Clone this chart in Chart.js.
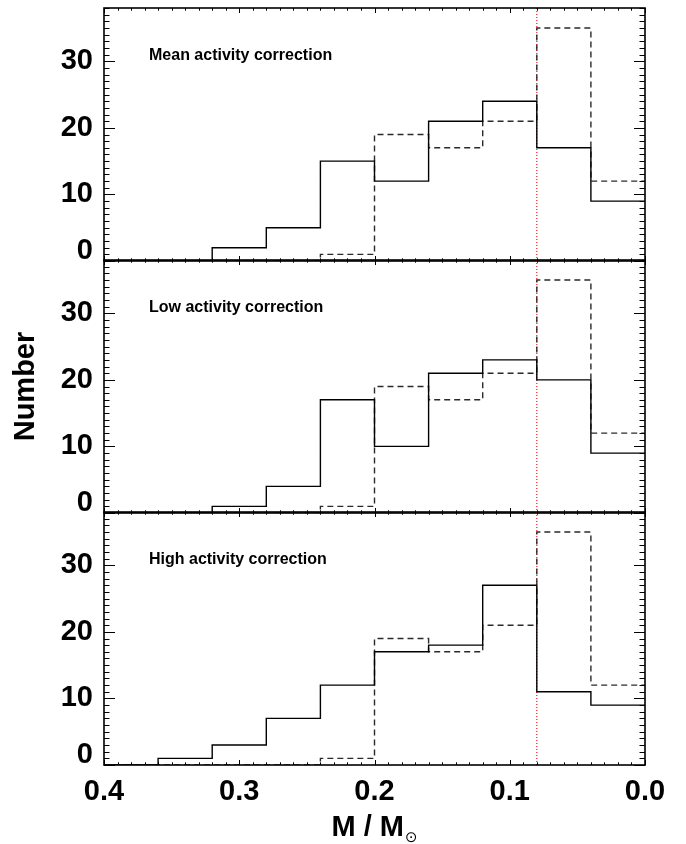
<!DOCTYPE html>
<html><head><meta charset="utf-8">
<script src="https://cdn.jsdelivr.net/npm/chart.js@4.4.0/dist/chart.umd.min.js"></script>
<style>
html,body{margin:0;padding:0;background:#fff;width:686px;height:844px;overflow:hidden;position:relative}
canvas{position:absolute;left:0}
</style></head><body>
<canvas id="p1" width="686" height="293" style="top:-12px"></canvas>
<canvas id="p2" width="686" height="293" style="top:240px"></canvas>
<canvas id="p3" width="686" height="352" style="top:492px"></canvas>
<script>
// ---- data ----
const binEdges = [0.40, 0.36, 0.32, 0.28, 0.24, 0.20, 0.16, 0.12, 0.08, 0.04, 0.00];
const meanActivity = [0, 0, 2, 5, 15, 12, 21, 24, 17, 9];
const lowActivity  = [0, 0, 1, 4, 17, 10, 21, 23, 20, 9];
const highActivity = [0, 1, 3, 7, 12, 17, 18, 27, 11, 9];
const referenceHist = [0, 0, 0, 0, 1, 19, 17, 21, 35, 12];
const panelTitles = ['Mean activity correction', 'Low activity correction', 'High activity correction'];
const yTickValues = [0, 10, 20, 30];
const xTickValues = [0.4, 0.3, 0.2, 0.1, 0.0];
const xTickLabels = ['0.4', '0.3', '0.2', '0.1', '0.0'];
const massLimit = 0.08;
const yMin = 0, yMax = 38;
const xMin = 0, xMax = 0.4;

const FONT = "'Liberation Sans', Arial, Helvetica, sans-serif";
Chart.defaults.font.family = FONT;
Chart.defaults.color = '#000';

function histPoints(vals) {
  return binEdges.map((e, i) => ({x: e, y: vals[Math.min(i, vals.length - 1)]}));
}

const framePlugin = {
  id: 'frame',
  afterDatasetsDraw(chart, args, opts) {
    const {ctx, chartArea: a} = chart;
    const x = chart.scales.x, y = chart.scales.y;
    ctx.save();
    ctx.strokeStyle = '#000';
    ctx.lineWidth = 1;
    ctx.beginPath();
    for (let k = 0; k <= 40; k++) {
      const px = Math.round(x.getPixelForValue(k / 100)) + 0.5;
      const len = (k % 10 === 0) ? 5 : 2.7;
      ctx.moveTo(px, a.top); ctx.lineTo(px, a.top + len);
      ctx.moveTo(px, a.bottom); ctx.lineTo(px, a.bottom - len);
    }
    for (let v = yMin; v <= yMax; v++) {
      const py = Math.round(y.getPixelForValue(v)) + 0.5;
      const len = (v % 10 === 0) ? 11 : 5.5;
      ctx.moveTo(a.left, py); ctx.lineTo(a.left + len, py);
      ctx.moveTo(a.right, py); ctx.lineTo(a.right - len, py);
    }
    ctx.stroke();
    ctx.lineWidth = 1.6;
    ctx.strokeRect(a.left, a.top, a.right - a.left, a.bottom - a.top);
    // panel label
    ctx.fillStyle = '#000';
    ctx.font = 'bold 16px ' + FONT;
    ctx.textAlign = 'left';
    ctx.textBaseline = 'middle';
    ctx.fillText(opts.label, a.left + 45, a.top + 48);
    // zero tick label (drawn slightly raised, as in the original)
    ctx.font = 'bold 29px ' + FONT;
    ctx.textAlign = 'right';
    ctx.fillText(String(yTickValues[0]), a.left - 11, y.getPixelForValue(yTickValues[0]) - 10);
    // x axis title with subscript
    if (opts.xTitle) {
      const main = 'M / M', sub = '\u2299';
      ctx.font = 'bold 29px ' + FONT;
      const w1 = ctx.measureText(main).width;
      ctx.font = '15px "DejaVu Sans"';
      const w2 = ctx.measureText(sub).width;
      const total = w1 + 1 + w2;
      const cx = (a.left + a.right) / 2;
      const x0 = cx - total / 2;
      ctx.textAlign = 'left';
      ctx.textBaseline = 'alphabetic';
      ctx.font = 'bold 29px ' + FONT;
      ctx.fillText(main, x0, a.bottom + 71);
      ctx.font = '15px "DejaVu Sans"';
      ctx.textBaseline = 'middle';
      ctx.fillText(sub, x0 + w1 + 1, a.bottom + 73);
    }
    ctx.restore();
  }
};

function makePanel(id, vals, label, opts) {
  const ctx = document.getElementById(id);
  return new Chart(ctx, {
    type: 'line',
    data: {
      datasets: [
        {data: histPoints(vals), borderColor: '#000', borderWidth: 1.4, stepped: true, pointRadius: 0, fill: false},
        {data: histPoints(referenceHist), borderColor: '#2a2a2a', borderWidth: 1.4, borderDash: [6, 4], stepped: true, pointRadius: 0, fill: false},
        {data: [{x: massLimit, y: yMin}, {x: massLimit, y: yMax}], borderColor: '#ff1a1a', borderWidth: 1.2, borderDash: [1, 2], pointRadius: 0, fill: false}
      ]
    },
    options: {
      responsive: false,
      animation: false,
      devicePixelRatio: 1,
      events: [],
      layout: {padding: {left: 0, right: 41, top: 20, bottom: opts.showX ? 0 : 20}},
      plugins: {legend: {display: false}, tooltip: {enabled: false}, frame: {label: label, xTitle: opts.showX}},
      scales: {
        x: {
          type: 'linear', min: xMin, max: xMax, reverse: true,
          display: opts.showX,
          grid: {display: false, drawTicks: false},
          border: {display: false},
          afterBuildTicks: s => { s.ticks = xTickValues.map(v => ({value: v})); },
          afterFit: s => { if (opts.showX) { s.height = 79; s.paddingLeft = 0; s.paddingRight = 0; } },
          ticks: {
            font: {size: 29, weight: 'bold'}, padding: 10, maxRotation: 0, autoSkip: false, color: '#000',
            callback: (v) => { const i = xTickValues.findIndex(t => Math.abs(t - v) < 1e-9); return i >= 0 ? xTickLabels[i] : ''; }
          }
        },
        y: {
          type: 'linear', min: yMin, max: yMax,
          grid: {display: false, drawTicks: false},
          border: {display: false},
          afterBuildTicks: s => { s.ticks = yTickValues.map(v => ({value: v})); },
          afterFit: s => { s.width = 104; s.paddingTop = 0; s.paddingBottom = 0; },
          title: {display: opts.showYTitle, text: 'Number', font: {size: 29, weight: 'bold'}, padding: {top: 9, bottom: 0}, color: '#000'},
          ticks: {
            font: {size: 29, weight: 'bold'}, padding: 11, color: '#000',
            callback: (v) => v === yTickValues[0] ? '' : String(v)
          }
        }
      }
    },
    plugins: [framePlugin]
  });
}

makePanel('p1', meanActivity, panelTitles[0], {showX: false, showYTitle: false});
makePanel('p2', lowActivity, panelTitles[1], {showX: false, showYTitle: true});
makePanel('p3', highActivity, panelTitles[2], {showX: true, showYTitle: false});
</script>
</body></html>
